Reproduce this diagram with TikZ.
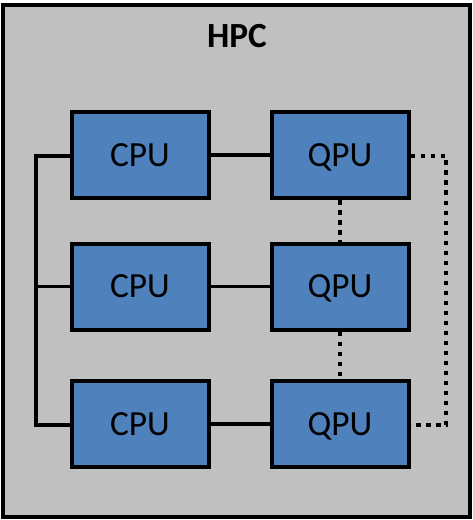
\documentclass[tikz,border=0pt]{standalone}
\usepackage{fontspec}
\setmainfont{Carlito}
\begin{document}
\begin{tikzpicture}[x=0.75pt,y=-0.75pt,
  unit/.style={draw=black,fill=boxblue,line width=3pt,minimum width=102.75pt,minimum height=64.5pt,inner sep=0pt,text height=17pt,text depth=0pt,font=\fontsize{26.5}{30}\selectfont},
  wire/.style={line width=2.8pt},
  dots/.style={line width=3.4pt,dash pattern=on 3.6pt off 3.9pt}]
\definecolor{boxblue}{HTML}{4F81BD}
\definecolor{bggray}{HTML}{C0C0C0}
\useasboundingbox (0,0) rectangle (473,520);
\draw[fill=bggray,line width=3pt] (3,5) rectangle (470,517);
\node[font=\bfseries\fontsize{26.5}{30}\selectfont,text height=17pt,text depth=0pt,inner sep=0pt] (title) at (237,36) {HPC};
\node[unit] (c1) at (140,155) {CPU};
\node[unit] (c2) at (140,286.5) {CPU};
\node[unit] (c3) at (140,424) {CPU};
\node[unit] (q1) at (340,155) {QPU};
\node[unit] (q2) at (340,286.5) {QPU};
\node[unit] (q3) at (340,424) {QPU};
\coordinate (b1) at (36,156);
\coordinate (b3) at (36,425);
\coordinate (r1) at (446,156);
\coordinate (r3) at (446,425);
\draw[wire] (c1) -- (q1);
\draw[wire] (c2) -- (q2);
\draw[wire] (c3) -- (q3);
\draw[wire,line join=miter] (c1.west |- b1) -- (b1) -- (b3) -- (c3.west |- b3);
\draw[wire] (b1 |- c2.west) -- (c2.west);
\draw[dots] (q1.south) -- (q2.north);
\draw[dots] (q2.south) -- (q3.north);
\draw[dots] (q1.east |- r1) -- (r1) -- (r3) -- (q3.east |- r3);
\end{tikzpicture}
\end{document}
